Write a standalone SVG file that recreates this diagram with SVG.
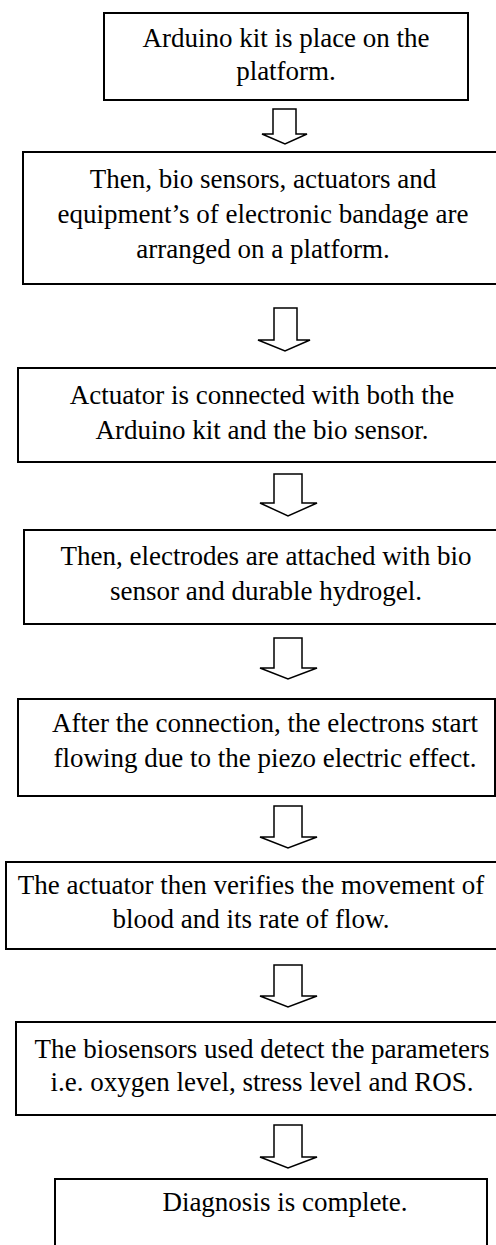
<svg xmlns="http://www.w3.org/2000/svg" width="496" height="1245" viewBox="0 0 496 1245">
<style>
.box{fill:#fff;stroke:#000;stroke-width:2}
.t{font-family:"Liberation Serif","Times New Roman",serif;font-size:27px;fill:#000;text-anchor:middle}
.arr{fill:#fff;stroke:#000;stroke-width:1.5;stroke-linejoin:miter}
</style>
<rect width="496" height="1245" fill="#fff"/>
<g id="connectors">
<path class="arr" d="M273,109 H296 V134 H307 L285,144 L262,134 H273 Z"/>
<path class="arr" d="M274,308 H297 V340 H310 L285,351 L258,340 H274 Z"/>
<path class="arr" d="M274,474 H302 V503 H317 L288,516 L260,503 H274 Z"/>
<path class="arr" d="M274,638 H302 V668 H317 L288,679 L260,668 H274 Z"/>
<path class="arr" d="M274,806 H302 V837 H317 L288,848 L260,837 H274 Z"/>
<path class="arr" d="M274,965 H302 V996 H317 L288,1007 L260,996 H274 Z"/>
<path class="arr" d="M274,1125 H302 V1157 H317 L288,1168 L260,1157 H274 Z"/>
</g>
<g id="n1"><rect class="box" x="104" y="13" width="364" height="87"/>
<text class="t" x="286" y="47">Arduino kit is place on the</text>
<text class="t" x="286" y="80">platform.</text></g>
<g id="n2"><rect class="box" x="23" y="152" width="480" height="132"/>
<text class="t" x="263" y="188">Then, bio sensors, actuators and</text>
<text class="t" x="263" y="223">equipment’s of electronic bandage are</text>
<text class="t" x="263" y="258">arranged on a platform.</text></g>
<g id="n3"><rect class="box" x="18" y="368" width="485" height="94"/>
<text class="t" x="262" y="404">Actuator is connected with both the</text>
<text class="t" x="262" y="439">Arduino kit and the bio sensor.</text></g>
<g id="n4"><rect class="box" x="24" y="530" width="480" height="94"/>
<text class="t" x="266" y="565">Then, electrodes are attached with bio</text>
<text class="t" x="266" y="600">sensor and durable hydrogel.</text></g>
<g id="n5"><rect class="box" x="18" y="699" width="477" height="97"/>
<text class="t" x="265" y="732">After the connection, the electrons start</text>
<text class="t" x="265" y="767">flowing due to the piezo electric effect.</text></g>
<g id="n6"><rect class="box" x="6" y="862" width="497" height="87"/>
<text class="t" x="251" y="894">The actuator then verifies the movement of</text>
<text class="t" x="251" y="928">blood and its rate of flow.</text></g>
<g id="n7"><rect class="box" x="16" y="1022" width="487" height="93"/>
<text class="t" x="262" y="1058">The biosensors used detect the parameters</text>
<text class="t" x="262" y="1091">i.e. oxygen level, stress level and ROS.</text></g>
<g id="n8"><rect class="box" x="55" y="1179" width="432" height="80"/>
<text class="t" x="285" y="1211">Diagnosis is complete.</text></g>
</svg>
